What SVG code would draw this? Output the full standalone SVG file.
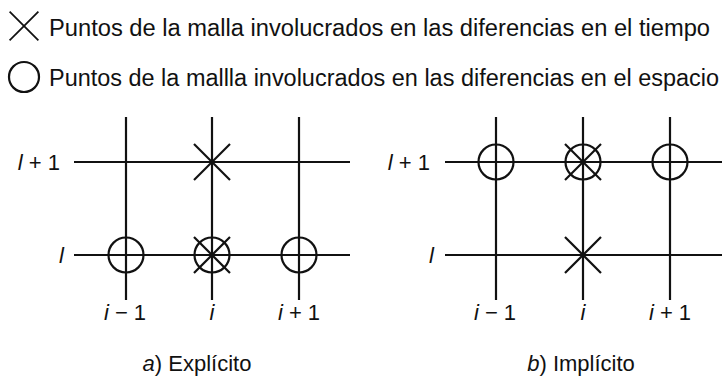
<svg xmlns="http://www.w3.org/2000/svg" width="728" height="384" viewBox="0 0 728 384">
<defs>
<style>
.ln{stroke:#111;stroke-width:2.2;fill:none}
.mk{stroke:#111;stroke-width:2.2;fill:none}
.t{font-family:"Liberation Sans",Arial,sans-serif;fill:#111}
.lg{font-size:23px}
.lb{font-size:22px}
.it{font-style:italic}
</style>
<g id="xmark"><line class="mk" x1="-18" y1="-18" x2="18" y2="18"/><line class="mk" x1="-18" y1="18" x2="18" y2="-18"/></g>
<circle id="omark" class="mk" r="17.5"/>
</defs>
<rect width="728" height="384" fill="#fff"/>
<g id="legend">
<use href="#xmark" transform="translate(24,26) scale(0.8)"/>
<text class="t lg" x="49" y="36" textLength="661" lengthAdjust="spacingAndGlyphs">Puntos de la malla involucrados en las diferencias en el tiempo</text>
<circle class="mk" cx="24" cy="77" r="15"/>
<text class="t lg" x="49" y="86" textLength="670" lengthAdjust="spacingAndGlyphs">Puntos de la mallla involucrados en las diferencias en el espacio</text>
</g>
<g id="connectors">
<line class="ln" x1="126" y1="117" x2="126" y2="300"/>
<line class="ln" x1="212" y1="117" x2="212" y2="300"/>
<line class="ln" x1="299" y1="117" x2="299" y2="300"/>
<line class="ln" x1="74" y1="162" x2="350" y2="162"/>
<line class="ln" x1="74" y1="255" x2="350" y2="255"/>
<line class="ln" x1="496" y1="117" x2="496" y2="300"/>
<line class="ln" x1="583" y1="117" x2="583" y2="300"/>
<line class="ln" x1="670" y1="117" x2="670" y2="300"/>
<line class="ln" x1="445" y1="162" x2="722" y2="162"/>
<line class="ln" x1="445" y1="255" x2="722" y2="255"/>
</g>
<g id="panel-a">
<use href="#xmark" transform="translate(212,162)"/>
<use href="#omark" transform="translate(126,255)"/>
<use href="#omark" transform="translate(212,255)"/>
<use href="#xmark" transform="translate(212,255)"/>
<use href="#omark" transform="translate(299,255)"/>
<text class="t lb" x="60" y="170" text-anchor="end"><tspan class="it">l</tspan> + 1</text>
<text class="t lb it" x="64" y="263" text-anchor="end">l</text>
<text class="t lb" x="125" y="320" text-anchor="middle"><tspan class="it">i</tspan> − 1</text>
<text class="t lb it" x="212" y="320" text-anchor="middle">i</text>
<text class="t lb" x="299" y="320" text-anchor="middle"><tspan class="it">i</tspan> + 1</text>
<text class="t lb" x="197" y="371" text-anchor="middle"><tspan class="it">a</tspan>) Explícito</text>
</g>
<g id="panel-b">
<use href="#omark" transform="translate(496,162)"/>
<use href="#omark" transform="translate(583,162)"/>
<use href="#xmark" transform="translate(583,162)"/>
<use href="#omark" transform="translate(670,162)"/>
<use href="#xmark" transform="translate(583,255)"/>
<text class="t lb" x="430" y="170" text-anchor="end"><tspan class="it">l</tspan> + 1</text>
<text class="t lb it" x="434" y="263" text-anchor="end">l</text>
<text class="t lb" x="495" y="320" text-anchor="middle"><tspan class="it">i</tspan> − 1</text>
<text class="t lb it" x="583" y="320" text-anchor="middle">i</text>
<text class="t lb" x="670" y="320" text-anchor="middle"><tspan class="it">i</tspan> + 1</text>
<text class="t lb" x="581" y="371" text-anchor="middle"><tspan class="it">b</tspan>) Implícito</text>
</g>
</svg>
